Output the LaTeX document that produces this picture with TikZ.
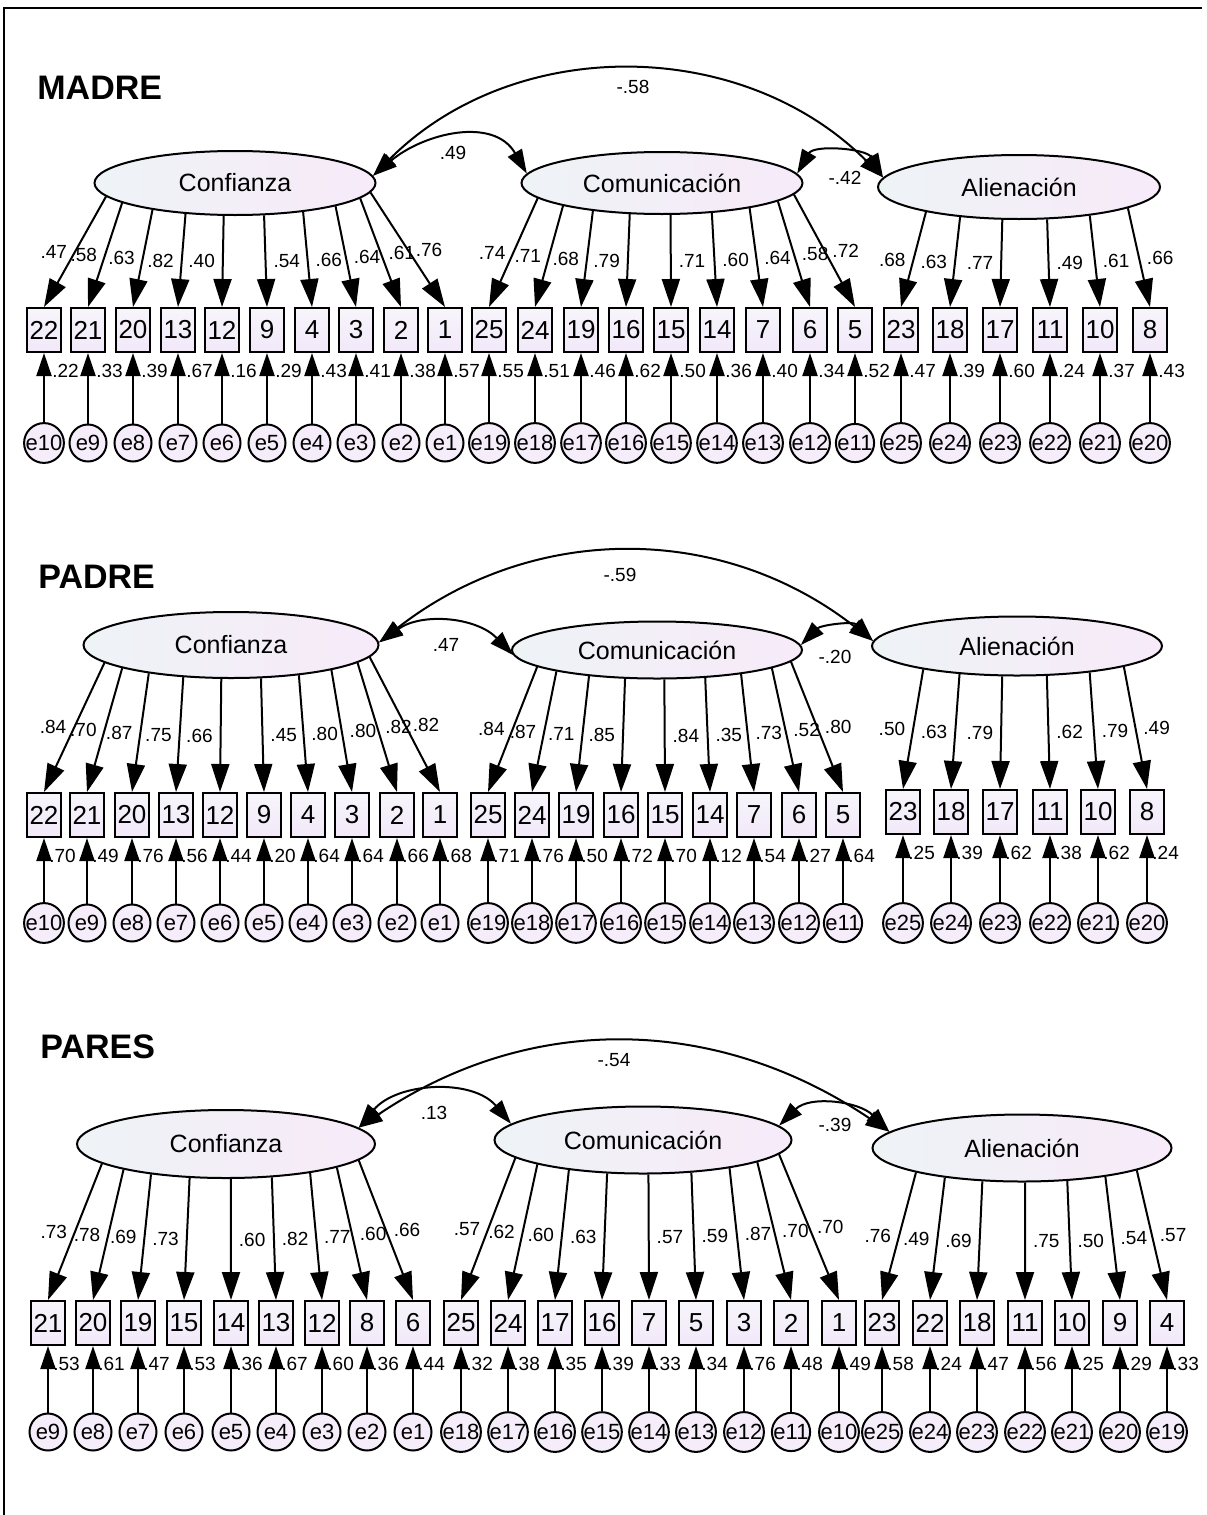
\documentclass[tikz,border=0pt]{standalone}
\usepackage{fontspec}
\setmainfont{Liberation Sans}
\usetikzlibrary{arrows.meta,shapes.geometric}

\definecolor{latleft}{RGB}{238,243,246}
\definecolor{latright}{RGB}{247,234,249}
\definecolor{boxtop}{RGB}{247,245,251}
\definecolor{boxbot}{RGB}{242,232,249}
\definecolor{errfill}{RGB}{245,237,250}

\tikzstyle{latent} = [ellipse, draw=black, line width=1pt, left color=latleft, right color=latright, inner sep=0pt, font=\fontsize{12.5}{14}\selectfont]
\tikzstyle{item} = [rectangle, draw=black, line width=1pt, top color=boxtop, bottom color=boxbot, minimum width=17pt, minimum height=22pt, inner sep=0pt, font=\fontsize{13}{15}\selectfont]
\tikzstyle{errvar} = [circle, draw=black, line width=1pt, fill=errfill, minimum size=18.5pt, inner sep=0pt, font=\fontsize{11}{13}\selectfont]
\tikzstyle{coef} = [inner sep=0pt, font=\fontsize{9.5}{11}\selectfont]
\tikzstyle{grouptitle} = [anchor=west, inner sep=0pt, font=\fontsize{17}{20}\bfseries\selectfont]
\tikzstyle{load} = [line width=1pt, -{Triangle[length=14pt,width=9pt]}]
\tikzstyle{resid} = [line width=1pt, -{Triangle[length=11.5pt,width=7.5pt]}]
\tikzstyle{cov} = [line width=1pt, {Triangle[length=12pt,width=8pt]}-{Triangle[length=12pt,width=8pt]}]

% indicators of one factor: #1 group, #2 factor node, #3 factor x, #4/#5 half axes,
% #6 row of boxes, #7 row of error terms, #8 shift of the error label, #9 items
\newcommand{\indicators}[9]{%
  \foreach \bx/\lab/\err/\ld/\ev in {#9} {
    \node [item] (#1-\lab) at (\bx,#6) {\lab};
    \node [errvar] (#1-\err) at (\bx,#7) {\err};
    \node [coef, anchor=west] (#1-v\lab) at (\bx+#8,#6+41) {\ev};
    \draw [resid] (#1-\err) -- (#1-\lab);
    \pgfmathsetmacro\d{\bx-#3}
    \pgfmathsetmacro\s{\d*(0.88-0.055*(\d/100)^2)}
    \pgfmathsetmacro\ang{atan2(-#5*sqrt(max(0,1-(\s/#4)^2)),\s)}
    \pgfmathtruncatemacro\isleft{\bx<#3}
    \ifnum\isleft=1 \def\side{east}\def\gap{-3.5pt}\else\def\side{west}\def\gap{3.5pt}\fi
    \draw [load] (#2.\ang) -- (#1-\lab.north) node [coef, pos=0.5, anchor=\side, xshift=\gap] (#1-l\lab) {\ld};
  }%
}

\begin{document}
\begin{tikzpicture}[x=0.5pt, y=-0.5pt]
	\useasboundingbox (0,0) rectangle (1206,1515);
	\coordinate (frameR) at (1202,8);
	\coordinate (frameTL) at (4,8);
	\coordinate (frameB) at (4,1515);
	\draw [line width=1pt] (frameR) -- (frameTL) -- (frameB);

	% MADRE
	\node [grouptitle] (ma-title) at (37,88) {MADRE};
	\node [latent, minimum width=140.5pt, minimum height=32pt] (ma-conf) at (235,183) {Confianza};
	\node [latent, minimum width=140.5pt, minimum height=31pt] (ma-comu) at (662,183) {Comunicación};
	\node [latent, minimum width=141pt, minimum height=32pt] (ma-alien) at (1019,187) {Alienación};
	\indicators{ma}{ma-conf}{235}{140.5}{32}{330}{443}{8}{44/22/e10/.47/.22, 88/21/e9/.58/.33, 133/20/e8/.63/.39, 178/13/e7/.82/.67, 222/12/e6/.40/.16, 267/9/e5/.54/.29, 312/4/e4/.66/.43, 356/3/e3/.64/.41, 401/2/e2/.61/.38, 445/1/e1/.76/.57}
	\indicators{ma}{ma-comu}{662}{140.5}{31}{330}{443}{8}{489/25/e19/.74/.55, 535/24/e18/.71/.51, 581/19/e17/.68/.46, 626/16/e16/.79/.62, 671/15/e15/.71/.50, 717/14/e14/.60/.36, 763/7/e13/.64/.40, 810/6/e12/.58/.34, 855/5/e11/.72/.52}
	\indicators{ma}{ma-alien}{1019}{141}{32}{330}{443}{8}{901/23/e25/.68/.47, 950/18/e24/.63/.39, 1000/17/e23/.77/.60, 1050/11/e22/.49/.24, 1100/10/e21/.61/.37, 1150/8/e20/.66/.43}
	\draw [cov] (ma-conf.3) to[out=40, in=120, looseness=1.1] (ma-comu.176);
	\draw [cov] (ma-conf.3) to[out=45, in=135] (ma-alien.176);
	\draw [cov] (ma-comu.4) to[out=60, in=120] (ma-alien.176);
	\node [coef] (ma-c1) at (453,153) {.49};
	\node [coef] (ma-c2) at (633,87) {-.58};
	\node [coef] (ma-c3) at (845,178) {-.42};

	% PADRE
	\node [grouptitle] (pa-title) at (38,577) {PADRE};
	\node [latent, minimum width=147.5pt, minimum height=33pt] (pa-conf) at (231,645) {Confianza};
	\node [latent, minimum width=145pt, minimum height=28.5pt] (pa-comu) at (657,650) {Comunicación};
	\node [latent, minimum width=145pt, minimum height=29.5pt] (pa-alien) at (1017,646) {Alienación};
	\indicators{pa}{pa-conf}{231}{147.5}{33}{815}{923}{5}{44/22/e10/.84/.70, 87/21/e9/.70/.49, 132/20/e8/.87/.76, 176/13/e7/.75/.56, 220/12/e6/.66/.44, 264/9/e5/.45/.20, 308/4/e4/.80/.64, 352/3/e3/.80/.64, 397/2/e2/.82/.66, 440/1/e1/.82/.68}
	\indicators{pa}{pa-comu}{657}{145}{28.5}{815}{923}{5}{488/25/e19/.84/.71, 532/24/e18/.87/.76, 576/19/e17/.71/.50, 621/16/e16/.85/.72, 665/15/e15/.84/.70, 710/14/e14/.35/.12, 754/7/e13/.73/.54, 799/6/e12/.52/.27, 843/5/e11/.80/.64}
	\indicators{pa}{pa-alien}{1017}{145}{29.5}{812}{923}{5}{903/23/e25/.50/.25, 951/18/e24/.63/.39, 1000/17/e23/.79/.62, 1050/11/e22/.62/.38, 1098/10/e21/.79/.62, 1147/8/e20/.49/.24}
	\draw [cov] (pa-conf.1) to[out=35, in=134] (pa-comu.182);
	\draw [cov] (pa-conf.1) to[out=38, in=142] (pa-alien.178);
	\draw [cov] (pa-comu.2) to[out=45, in=135] (pa-alien.178);
	\node [coef] (pa-c1) at (446,645) {.47};
	\node [coef] (pa-c2) at (620,575) {-.59};
	\node [coef] (pa-c3) at (835,657) {-.20};

	% PARES
	\node [grouptitle] (pr-title) at (40,1047) {PARES};
	\node [latent, minimum width=149pt, minimum height=34pt] (pr-conf) at (226,1144) {Confianza};
	\node [latent, minimum width=148.5pt, minimum height=33.5pt] (pr-comu) at (643,1140) {Comunicación};
	\node [latent, minimum width=149.5pt, minimum height=33.5pt] (pr-alien) at (1022,1148) {Alienación};
	\indicators{pr}{pr-conf}{226}{149}{34}{1323}{1432}{5}{48/21/e9/.73/.53, 93/20/e8/.78/.61, 138/19/e7/.69/.47, 184/15/e6/.73/.53, 231/14/e5/.60/.36, 276/13/e4/.82/.67, 322/12/e3/.77/.60, 367/8/e2/.60/.36, 413/6/e1/.66/.44}
	\indicators{pr}{pr-comu}{643}{148.5}{33.5}{1323}{1432}{5}{461/25/e18/.57/.32, 508/24/e17/.62/.38, 555/17/e16/.60/.35, 602/16/e15/.63/.39, 649/7/e14/.57/.33, 696/5/e13/.59/.34, 744/3/e12/.87/.76, 791/2/e11/.70/.48, 839/1/e10/.70/.49}
	\indicators{pr}{pr-alien}{1022}{149.5}{33.5}{1323}{1432}{5}{882/23/e25/.76/.58, 930/22/e24/.49/.24, 977/18/e23/.69/.47, 1025/11/e22/.75/.56, 1072/10/e21/.50/.25, 1120/9/e20/.54/.29, 1167/4/e19/.57/.33}
	\draw [cov] (pr-conf.7) to[out=50, in=130] (pr-comu.173);
	\draw [cov] (pr-conf.7) to[out=34, in=146] (pr-alien.173);
	\draw [cov] (pr-comu.6) to[out=45, in=135] (pr-alien.173);
	\node [coef] (pr-c1) at (434,1113) {.13};
	\node [coef] (pr-c2) at (614,1060) {-.54};
	\node [coef] (pr-c3) at (835,1125) {-.39};
\end{tikzpicture}
\end{document}
